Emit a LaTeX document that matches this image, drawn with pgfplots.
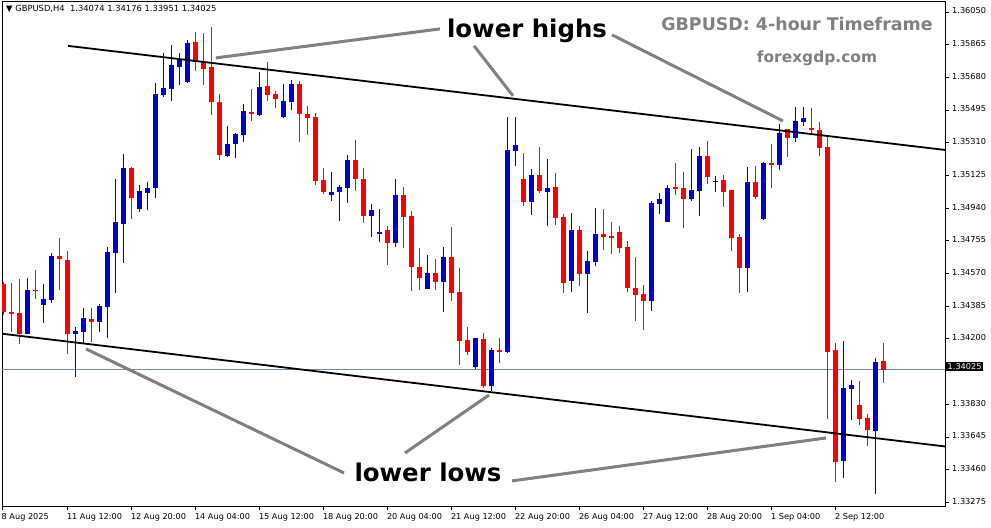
\documentclass[border=0pt]{standalone}
\usepackage{pgfplots}
\pgfplotsset{compat=1.18}
\usepackage{pgfplotstable}
\usepackage{fontspec}
\setmainfont{DejaVu Sans}
\definecolor{cblue}{RGB}{0,0,205}
\definecolor{cred}{RGB}{255,0,0}
\definecolor{agray}{RGB}{128,128,128}
\definecolor{pline}{RGB}{119,136,153}

\pgfplotstableread{
i O H L C
3 1.34229 1.34545 1.34225 1.34477
5 1.34393 1.34511 1.34292 1.34426
6 1.34422 1.34686 1.34405 1.34671
9 1.34229 1.34269 1.33986 1.34245
10 1.34241 1.34375 1.34169 1.34316
12 1.34297 1.34397 1.34241 1.34386
13 1.34382 1.34722 1.34203 1.34692
14 1.34688 1.35105 1.34461 1.34863
15 1.34850 1.35246 1.34631 1.35169
17 1.34937 1.35071 1.34918 1.35037
18 1.35027 1.35090 1.34931 1.35056
19 1.35056 1.35648 1.34999 1.35586
20 1.35580 1.35816 1.35569 1.35620
21 1.35614 1.35863 1.35548 1.35750
22 1.35741 1.35818 1.35639 1.35778
23 1.35656 1.35892 1.35650 1.35875
28 1.35235 1.35405 1.35230 1.35303
29 1.35305 1.35365 1.35225 1.35360
30 1.35356 1.35529 1.35316 1.35490
32 1.35469 1.35711 1.35463 1.35626
35 1.35458 1.35643 1.35452 1.35546
36 1.35542 1.35665 1.35495 1.35643
41 1.35016 1.35145 1.34982 1.35031
42 1.35033 1.35071 1.34869 1.35061
43 1.35056 1.35241 1.34971 1.35212
46 1.34897 1.34963 1.34778 1.34929
47 1.34795 1.34935 1.34750 1.34805
49 1.34744 1.35105 1.34722 1.35014
53 1.34484 1.34675 1.34480 1.34573
55 1.34524 1.34722 1.34354 1.34665
59 1.34043 1.34207 1.34031 1.34203
61 1.33935 1.34150 1.33905 1.34139
63 1.34127 1.35458 1.34122 1.35269
64 1.35263 1.35458 1.35180 1.35297
66 1.34976 1.35162 1.34903 1.35128
68 1.35033 1.35218 1.34841 1.35054
71 1.34529 1.34912 1.34467 1.34816
73 1.34569 1.34697 1.34348 1.34641
74 1.34637 1.34941 1.34614 1.34794
81 1.34416 1.34980 1.34359 1.34969
82 1.34965 1.35026 1.34908 1.34992
83 1.34863 1.35071 1.34860 1.35054
86 1.34993 1.35275 1.34982 1.35043
87 1.35039 1.35286 1.34897 1.35235
89 1.35088 1.35122 1.35033 1.35094
93 1.34603 1.35173 1.34467 1.35088
95 1.34880 1.35201 1.34875 1.35195
97 1.35186 1.35416 1.35158 1.35365
99 1.35339 1.35512 1.35316 1.35433
100 1.35429 1.35512 1.35407 1.35450
105 1.33510 1.34188 1.33414 1.33922
106 1.33918 1.33967 1.33743 1.33939
109 1.33680 1.34092 1.33324 1.34069
}\bull

\pgfplotstableread{
i O H L C
0 1.34511 1.34522 1.34335 1.34354
1 1.34352 1.34518 1.34241 1.34342
2 1.34346 1.34539 1.34173 1.34229
4 1.34477 1.34590 1.34427 1.34471
7 1.34669 1.34773 1.34477 1.34650
8 1.34646 1.34697 1.34116 1.34229
11 1.34313 1.34375 1.34182 1.34297
16 1.35169 1.35172 1.34879 1.34999
24 1.35880 1.35937 1.35718 1.35769
25 1.35769 1.35931 1.35639 1.35729
26 1.35739 1.35967 1.35469 1.35542
27 1.35541 1.35586 1.35212 1.35239
31 1.35484 1.35614 1.35435 1.35475
33 1.35631 1.35767 1.35548 1.35582
34 1.35586 1.35603 1.35508 1.35559
37 1.35643 1.35660 1.35314 1.35475
38 1.35473 1.35518 1.35356 1.35452
39 1.35456 1.35478 1.35073 1.35095
40 1.35099 1.35167 1.35020 1.35031
44 1.35212 1.35326 1.35039 1.35107
45 1.35105 1.35167 1.34858 1.34897
48 1.34816 1.34839 1.34620 1.34744
50 1.35014 1.35060 1.34716 1.34892
51 1.34895 1.34924 1.34473 1.34609
52 1.34609 1.34716 1.34478 1.34546
54 1.34573 1.34652 1.34478 1.34524
56 1.34665 1.34835 1.34416 1.34461
57 1.34467 1.34603 1.34054 1.34190
58 1.34195 1.34267 1.34110 1.34127
60 1.34199 1.34235 1.33924 1.33933
62 1.34139 1.34207 1.34065 1.34127
65 1.35105 1.35252 1.34954 1.34976
67 1.35128 1.35286 1.35027 1.35039
69 1.35060 1.35139 1.34846 1.34886
70 1.34890 1.34907 1.34461 1.34518
72 1.34816 1.34839 1.34501 1.34569
75 1.34794 1.34935 1.34705 1.34778
76 1.34782 1.34862 1.34682 1.34773
77 1.34805 1.34839 1.34688 1.34716
78 1.34720 1.34754 1.34467 1.34490
79 1.34488 1.34663 1.34303 1.34450
80 1.34454 1.34505 1.34252 1.34416
84 1.35060 1.35195 1.35016 1.35050
85 1.35054 1.35145 1.34829 1.34993
88 1.35235 1.35320 1.35078 1.35118
90 1.35099 1.35128 1.34948 1.35033
91 1.35043 1.35045 1.34699 1.34773
92 1.34777 1.34794 1.34461 1.34603
94 1.35088 1.35178 1.34993 1.35005
96 1.35195 1.35303 1.35056 1.35186
98 1.35388 1.35390 1.35231 1.35339
101 1.35394 1.35507 1.35361 1.35384
102 1.35382 1.35428 1.35237 1.35282
103 1.35286 1.35343 1.33748 1.34127
104 1.34137 1.34177 1.33392 1.33505
107 1.33826 1.33962 1.33714 1.33748
108 1.33752 1.33775 1.33595 1.33686
110 1.34074 1.34176 1.33951 1.34025
}\bear

\pgfplotsset{candle/.style={only marks, mark=text, text mark={}, error bars/.cd, y dir=plus, y explicit, error mark=none}}

\begin{document}
\begin{tikzpicture}[x=1bp,y=1bp]
\begin{axis}[
  at={(2bp,22bp)}, anchor=south west, scale only axis,
  width=943bp, height=505bp,
  xmin=-0.1625, xmax=117.71, ymin=1.33254, ymax=1.36112,
  axis line style={black, line width=0.8bp},
  tick style={black, line width=0.8bp},
  xtick pos=bottom, ytick pos=right, tick align=outside,
  major tick length=4bp,
  scaled y ticks=false,
  xtick={-0.1625,8,16,24,32,40,48,56,64,72,80,88,96,104},
  xticklabels={8 Aug 2025, 11 Aug 12:00, 12 Aug 20:00, 14 Aug 04:00, 15 Aug 12:00, 18 Aug 20:00, 20 Aug 04:00, 21 Aug 12:00, 22 Aug 20:00, 26 Aug 04:00, 27 Aug 12:00, 28 Aug 20:00, 1 Sep 04:00, 2 Sep 12:00},
  ytick={1.36050,1.35865,1.35680,1.35495,1.35310,1.35125,1.34940,1.34755,1.34570,1.34385,1.34200,1.33830,1.33645,1.33460,1.33275},
  yticklabels={1.36050,1.35865,1.35680,1.35495,1.35310,1.35125,1.34940,1.34755,1.34570,1.34385,1.34200,1.33830,1.33645,1.33460,1.33275},
  x tick label style={anchor=north west, inner sep=0pt, xshift=-0.5bp, yshift=-3bp, font=\fontsize{8.2}{9}\selectfont},
  y tick label style={anchor=west, inner sep=0pt, xshift=3bp, yshift=1bp, font=\fontsize{8.2}{9}\selectfont},
  clip=true,
]
% current price line
\addplot[pline, line width=0.8bp] coordinates {(-0.1625,1.34025) (117.71,1.34025)};
% bullish candles
\addplot[candle, error bar style={cblue, line width=1bp}] table[x=i, y=L, y error expr=\thisrow{H}-\thisrow{L}] {\bull};
\addplot[candle, error bar style={cblue, line width=5bp}] table[x=i, y=O, y error expr=\thisrow{C}-\thisrow{O}] {\bull};
% bearish candles
\addplot[candle, error bar style={cred, line width=1bp}] table[x=i, y=L, y error expr=\thisrow{H}-\thisrow{L}] {\bear};
\addplot[candle, error bar style={cred, line width=5bp}] table[x=i, y=C, y error expr=\thisrow{O}-\thisrow{C}] {\bear};
% channel lines
\addplot[black, line width=1.8bp] coordinates {(8.09,1.35858) (117.71,1.35269)};
\addplot[black, line width=1.8bp] coordinates {(-0.1625,1.34229) (117.71,1.33591)};
% annotation pointers
\addplot[agray, line width=3bp] coordinates {(26.59,1.35790) (54.59,1.35954)};
\addplot[agray, line width=3bp] coordinates {(58.84,1.35858) (63.71,1.35575)};
\addplot[agray, line width=3bp] coordinates {(76.09,1.35920) (97.46,1.35433)};
\addplot[agray, line width=3bp] coordinates {(10.34,1.34143) (42.59,1.33441)};
\addplot[agray, line width=3bp] coordinates {(50.21,1.33554) (60.71,1.33882)};
\addplot[agray, line width=3bp] coordinates {(63.59,1.33396) (102.84,1.33639)};
\coordinate (pc) at (axis cs:117.71,1.34025);
\end{axis}
\node[fill=black, text=white, anchor=west, inner sep=1.5bp, font=\fontsize{8.2}{9}\selectfont, xshift=1bp, yshift=3bp] at (pc) {1.34025};
\node[anchor=west, inner sep=0pt, font=\fontsize{8.4}{9}\selectfont] at (6,519) {▼ GBPUSD,H4\ \ 1.34074 1.34176 1.33951 1.34025};
\node[font=\bfseries\fontsize{24.5}{28}\selectfont] at (527,497) {lower highs};
\node[font=\bfseries\fontsize{24.5}{28}\selectfont] at (428,56) {lower lows};
\node[font=\bfseries\fontsize{17.5}{20}\selectfont, text=agray] at (797,504) {GBPUSD: 4-hour Timeframe};
\node[font=\bfseries\fontsize{15.5}{18}\selectfont, text=agray] at (817,470) {forexgdp.com};
\pgfresetboundingbox
\useasboundingbox (0,0) rectangle (991,528);
\end{tikzpicture}
\end{document}
